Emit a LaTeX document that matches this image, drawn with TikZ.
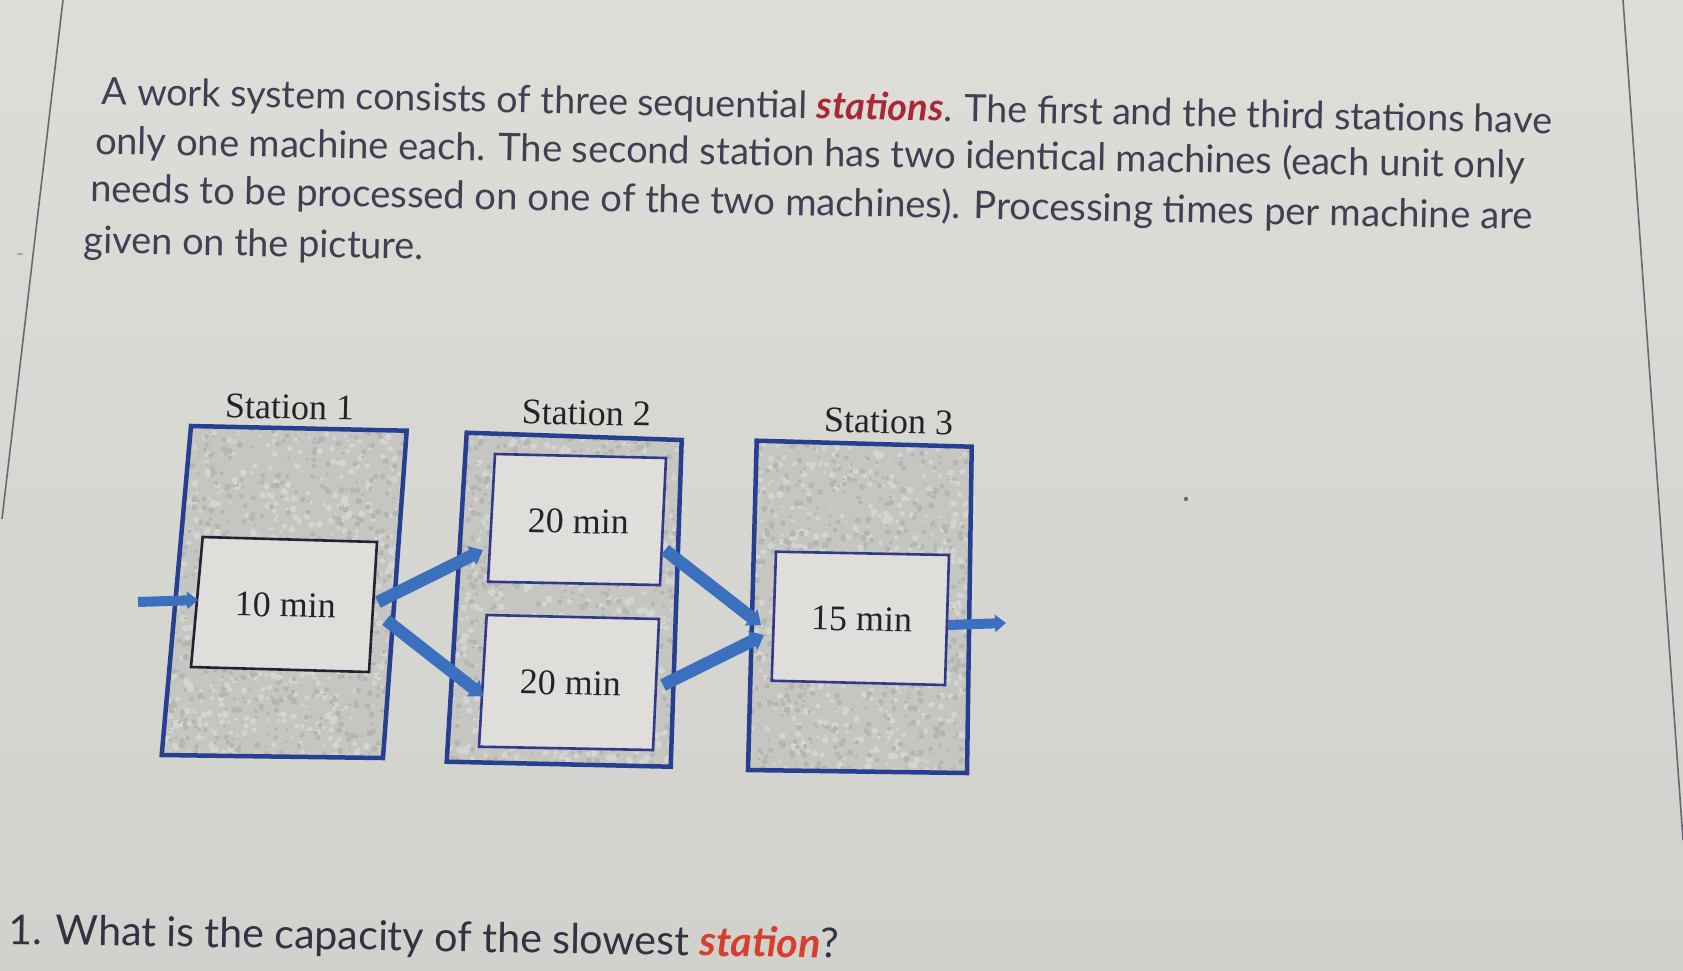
\documentclass[tikz,border=0pt]{standalone}
\usepackage{fontspec}
\setmainfont{Liberation Serif}
\newfontfamily\lato{Lato}
\usetikzlibrary{arrows.meta}
\definecolor{bgtop}{RGB}{222,221,216}
\definecolor{bgbot}{RGB}{209,209,205}
\definecolor{bodytext}{RGB}{64,64,84}
\definecolor{qtext}{RGB}{50,50,66}
\definecolor{redA}{RGB}{168,40,55}
\definecolor{redB}{RGB}{214,62,45}
\definecolor{outerblue}{RGB}{40,62,145}
\definecolor{innerblue}{RGB}{48,58,135}
\definecolor{innerdark}{RGB}{38,32,52}
\definecolor{arrowblue}{RGB}{58,112,190}
\definecolor{mottlebase}{RGB}{197,197,194}
\definecolor{fleckL}{RGB}{212,212,208}
\definecolor{fleckD}{RGB}{181,181,178}
\definecolor{innerfill}{RGB}{223,222,218}
\definecolor{diagtext}{RGB}{38,34,44}
\definecolor{pageline}{RGB}{105,105,118}
\newcommand\mymottle[5]{%
  \foreach \i in {1,...,#5} {%
    \pgfmathsetmacro\xx{#1+rnd*(#2-#1)}%
    \pgfmathsetmacro\yy{#3+rnd*(#4-#3)}%
    \pgfmathsetmacro\rr{1.4+rnd*2.2}%
    \fill[fleckL] (\xx,\yy) circle[radius=\rr];
  }%
  \foreach \i in {1,...,#5} {%
    \pgfmathsetmacro\xx{#1+rnd*(#2-#1)}%
    \pgfmathsetmacro\yy{#3+rnd*(#4-#3)}%
    \pgfmathsetmacro\rr{1.2+rnd*2.0}%
    \fill[fleckD] (\xx,\yy) circle[radius=\rr];
  }%
}
\tikzset{
  outerbox/.style={draw=outerblue, line width=4.5pt, line join=miter},
  innerbox/.style={draw=innerblue, line width=2.6pt, fill=innerfill},
  innerboxdark/.style={draw=innerdark, line width=2.6pt, fill=innerfill},
  flow/.style={draw=arrowblue, line width=12.5pt, -{Triangle[length=0pt 1.0, width=0pt 1.6]}},
  flowthin/.style={draw=arrowblue, line width=10pt, -{Triangle[length=0pt 1.1, width=0pt 1.7]}},
  bodyline/.style={anchor=base west, inner sep=0pt, text=bodytext},
  diaglabel/.style={anchor=base, inner sep=0pt, text=diagtext, rotate=-1.2, font=\fontsize{36}{40}\selectfont}
}
\begin{document}
\begin{tikzpicture}[x=1pt,y=-1pt]
\useasboundingbox (0,0) rectangle (1683,970);
\shade[top color=bgtop, bottom color=bgbot] (0,0) rectangle (1683,970);
% page edges
\draw[pageline, line width=1.6pt] (63,0) -- (2,519);
\draw[pageline, line width=1.6pt] (1623,0) -- (1683,840);
\fill[pageline] (1186,499) circle[radius=2.2];
\fill[pageline!60] (20,254) ellipse[x radius=3, y radius=1.3];

% paragraph
\node[bodyline, rotate=-1.15] (l1) at (101.7,104.3) {\resizebox{1450pt}{!}{\lato A work system consists of three sequential \textcolor{redA}{\textbf{\textit{stations}}}. The first and the third stations have}};
\node[bodyline, rotate=-0.97] (l2) at (95,154) {\resizebox{1430pt}{!}{\lato only one machine each. The second station has two identical machines (each unit only}};
\node[bodyline, rotate=-1.10] (l3) at (90,201.7) {\resizebox{1442pt}{!}{\lato needs to be processed on one of the two machines). Processing times per machine are}};
\node[bodyline, rotate=-1.05] (l4) at (83.3,253) {\resizebox{340pt}{!}{\lato given on the picture.}};

% question
\node[anchor=base west, inner sep=0pt, text=qtext, rotate=-0.97] (q) at (8,944) {\resizebox{831pt}{!}{\lato 1. What is the capacity of the slowest \textcolor{redB}{\textbf{\textit{station}}}?}};

% station 1
\pgfmathsetseed{4711}
\begin{scope}
  \clip (191,426) -- (406.7,430.7) -- (383,758) -- (161.7,755) -- cycle;
  \fill[mottlebase] (150,420) rectangle (410,765);
  \mymottle{158}{408}{424}{760}{650}
\end{scope}
\draw[outerbox] (191,426) -- (406.7,430.7) -- (383,758) -- (161.7,755) -- cycle;
\draw[innerboxdark] (202.7,537) -- (377,542) -- (369,672) -- (191,667) -- cycle;

% station 2
\begin{scope}
  \clip (466.7,432.7) -- (681.7,440) -- (670.7,766.7) -- (446.7,761.7) -- cycle;
  \fill[mottlebase] (440,428) rectangle (688,772);
  \mymottle{442}{685}{430}{770}{650}
\end{scope}
\draw[outerbox] (466.7,432.7) -- (681.7,440) -- (670.7,766.7) -- (446.7,761.7) -- cycle;
\draw[innerbox] (495,454) -- (666,458) -- (660,585) -- (488,581.7) -- cycle;
\draw[innerbox] (486.7,615) -- (659,619) -- (653,750) -- (479,746.7) -- cycle;

% station 3
\begin{scope}
  \clip (756.7,440.7) -- (971.7,446.7) -- (967,773) -- (748,770) -- cycle;
  \fill[mottlebase] (740,436) rectangle (978,778);
  \mymottle{744}{975}{438}{776}{650}
\end{scope}
\draw[outerbox] (756.7,440.7) -- (971.7,446.7) -- (967,773) -- (748,770) -- cycle;
\draw[innerbox] (776,551.7) -- (949,555) -- (945,685) -- (771.7,680.7) -- cycle;

% texts
\node[diaglabel] (st1) at (289.3,419) {Station 1};
\node[diaglabel] (st2) at (586,425) {Station 2};
\node[diaglabel] (st3) at (888.3,433.3) {Station 3};
\node[diaglabel] (m1) at (285,616.7) {10 min};
\node[diaglabel] (m2a) at (578,533.3) {20 min};
\node[diaglabel] (m2b) at (570,695) {20 min};
\node[diaglabel] (m3) at (861.3,630.7) {15 min};

% connector end points
\coordinate (inS) at (138,602);
\coordinate (inE) at (198,600);
\coordinate (m1out1) at (378,602);
\coordinate (m2ain) at (483,550);
\coordinate (m1out2) at (386,620);
\coordinate (m2bin) at (483,696);
\coordinate (m2aout) at (665,550);
\coordinate (m3in1) at (761,625);
\coordinate (m2bout) at (663,685);
\coordinate (m3in2) at (764,635);
\coordinate (outS) at (948,625);
\coordinate (outE) at (1006,623);

\draw[flowthin] (inS) -- (inE);
\draw[flow] (m1out1) -- (m2ain);
\draw[flow] (m1out2) -- (m2bin);
\draw[flow] (m2aout) -- (m3in1);
\draw[flow] (m2bout) -- (m3in2);
\draw[flowthin] (outS) -- (outE);
\end{tikzpicture}
\end{document}
